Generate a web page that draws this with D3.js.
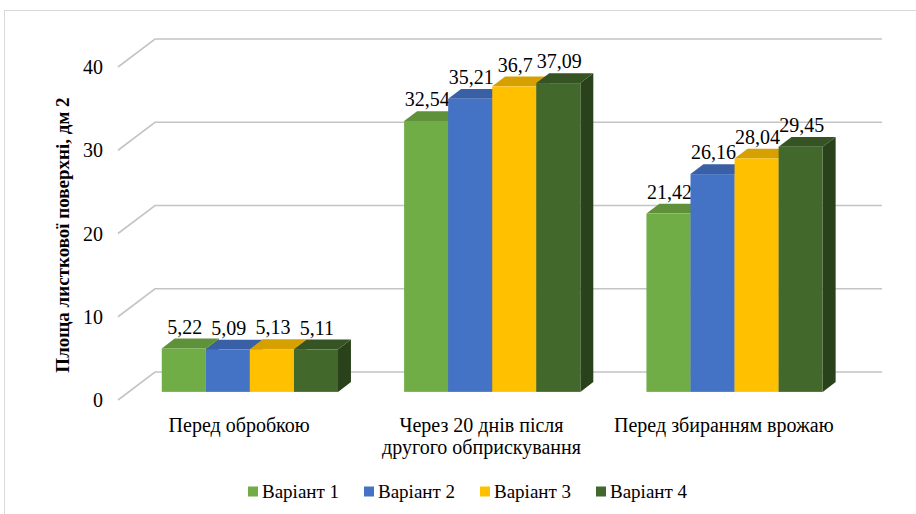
<!DOCTYPE html>
<html>
<head>
<meta charset="utf-8">
<script src="https://cdn.jsdelivr.net/npm/d3@7"></script>
<style>
  body { margin: 0; background: #fff; }
</style>
</head>
<body>
<svg id="chart" width="916" height="514"></svg>
<script>
// data
var categories = [["Перед обробкою"], ["Через 20 днів після", "другого обприскування"], ["Перед збиранням врожаю"]];
var series = ["Варіант 1", "Варіант 2", "Варіант 3", "Варіант 4"];
var values = [
  [5.22, 32.54, 21.42],
  [5.09, 35.21, 26.16],
  [5.13, 36.7, 28.04],
  [5.11, 37.09, 29.45]
];
var yTicks = [0, 10, 20, 30, 40];
var colors = ["#70AD47", "#4472C4", "#FFC000", "#43682B"];
var topColors = ["#5E913A", "#395FA6", "#D6A100", "#355323"];
var sideColors = ["#4E7A30", "#2F4F8A", "#B38600", "#2A421B"];

var FONT = "'Liberation Serif', 'Times New Roman', serif";
var svg = d3.select("#chart").attr("font-family", FONT);

// outer frame (right/bottom run off the page)
svg.append("rect").attr("x", 4.5).attr("y", 10.5).attr("width", 940).attr("height", 540)
  .attr("fill", "none").attr("stroke", "#d9d9d9");

// 3d geometry: front plane + depth vector
var depth = {dx: 37, dy: -28};
var f0 = 0.29, f1 = 0.64;   // bars between these depth fractions

var y = d3.scaleLinear().domain([0, 40]).range([400, 67]);
var x0 = d3.scaleBand().domain(d3.range(categories.length)).range([118, 845]);
var x1 = d3.scaleBand().domain(d3.range(series.length)).range([0, x0.bandwidth()]).paddingOuter(0.75);

// gridlines: left wall diagonal + back wall
var grid = svg.append("g").attr("stroke", "#c4c4c4").attr("stroke-width", 1.6).attr("fill", "none");
yTicks.forEach(function(t){
  var fy = y(t);
  grid.append("polyline")
    .attr("points", [[118, fy], [118 + depth.dx, fy + depth.dy], [845 + depth.dx, fy + depth.dy]].join(" "));
});

// tick labels
svg.append("g").selectAll("text").data(yTicks).enter().append("text")
  .attr("x", 103).attr("y", function(d){ return y(d) + 7; })
  .attr("text-anchor", "end").attr("font-size", 20).attr("fill", "#000")
  .text(function(d){ return d; });

// axis title
svg.append("text")
  .attr("transform", "translate(69,235) rotate(-90)")
  .attr("text-anchor", "middle").attr("font-size", 19).attr("font-weight", "bold")
  .text("Площа листкової поверхні, дм 2");

// bars
var sx = depth.dx * f0, sy = depth.dy * f0;
var bdx = depth.dx * (f1 - f0), bdy = depth.dy * (f1 - f0);
var fmt = function(v){ return String(v).replace(".", ","); };

var bars = svg.append("g");
categories.forEach(function(c, ci){
  series.forEach(function(s, si){
    var v = values[si][ci];
    var xa = x0(ci) + x1(si) + sx, xb = xa + x1.bandwidth();
    var yb = y(0) + sy, yt = y(v) + sy;
    var g = bars.append("g");
    g.append("polygon").attr("fill", sideColors[si])
      .attr("points", [[xb, yt], [xb + bdx, yt + bdy], [xb + bdx, yb + bdy], [xb, yb]].join(" "));
    g.append("polygon").attr("fill", topColors[si])
      .attr("points", [[xa, yt], [xb, yt], [xb + bdx, yt + bdy], [xa + bdx, yt + bdy]].join(" "));
    g.append("rect").attr("fill", colors[si])
      .attr("x", xa).attr("y", yt).attr("width", xb - xa).attr("height", yb - yt);
    g.append("text")
      .attr("x", (xa + xb) / 2 + 1).attr("y", yt + bdy - 5)
      .attr("text-anchor", "middle").attr("font-size", 20)
      .text(fmt(v));
  });
});

// category labels
categories.forEach(function(lines, ci){
  var cx = x0(ci) + x0.bandwidth() / 2;
  var t = svg.append("text").attr("text-anchor", "middle").attr("font-size", 20)
    .attr("x", cx).attr("y", 432);
  lines.forEach(function(l, li){
    t.append("tspan").attr("x", cx).attr("dy", li ? 22 : 0).text(l);
  });
});

// legend
var legend = svg.append("g").attr("transform", "translate(248,491)");
series.forEach(function(s, si){
  var lg = legend.append("g").attr("transform", "translate(" + (si * 116) + ",0)");
  lg.append("rect").attr("x", 0).attr("y", -4.5).attr("width", 10).attr("height", 10).attr("fill", colors[si]);
  lg.append("text").attr("x", 14).attr("y", 7).attr("font-size", 19).text(s);
});
</script>
</body>
</html>
